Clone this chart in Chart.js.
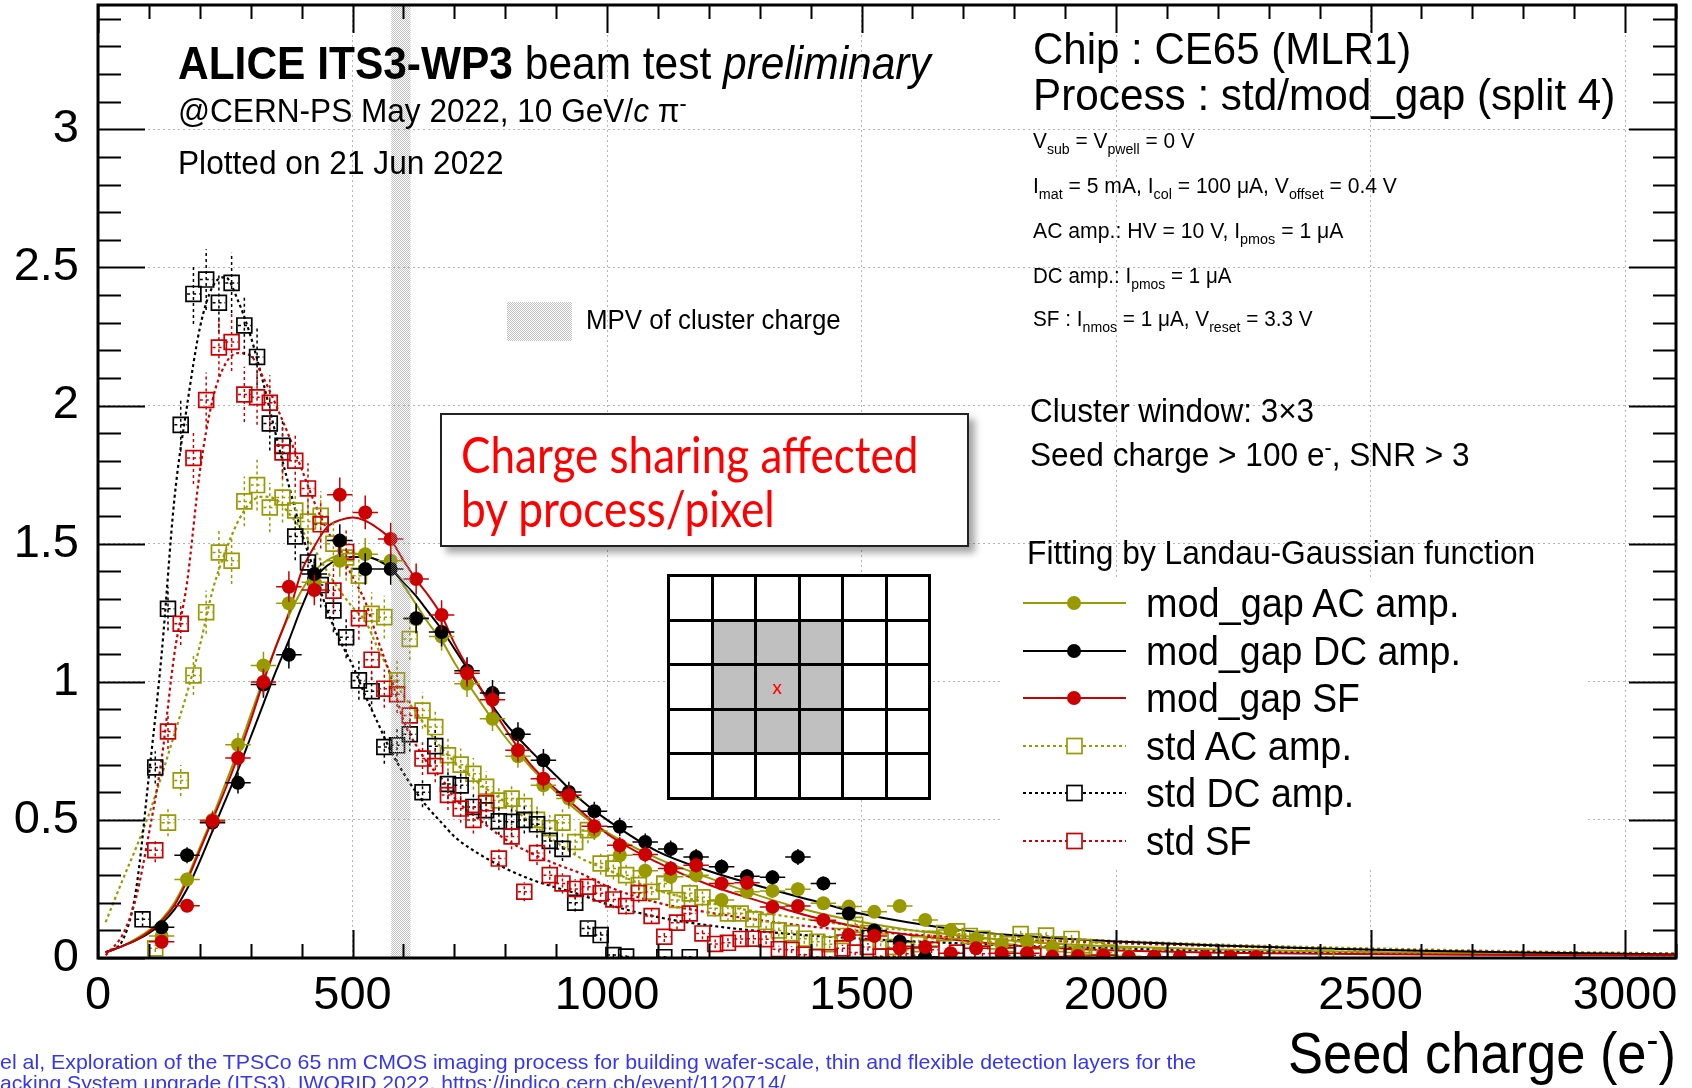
<!DOCTYPE html>
<html>
<head>
<meta charset="utf-8">
<script src="https://cdn.jsdelivr.net/npm/chart.js@4.4.1/dist/chart.umd.min.js"></script>
<style>
html, body { margin:0; padding:0; background:#fff; }
#wrap { position:relative; width:1692px; height:1088px; overflow:hidden; background:#fff; }
#plot { position:absolute; left:0; top:0; }
.txt { position:absolute; white-space:nowrap; line-height:1; font-family:'Liberation Sans', Arial, sans-serif; color:#000; transform-origin:0 0; }
.sb { position:relative; top:0.38em; font-size:0.68em; }
.sp { position:relative; top:-0.5em; font-size:0.68em; }
#note { position:absolute; left:440px; top:413px; width:525px; height:130px; border:2px solid #222; background:#fff; box-shadow:6px 6px 7px rgba(0,0,0,0.35); }
#pix { position:absolute; left:667px; top:574px; display:grid; grid-template-columns:repeat(6, 40.5px); grid-template-rows:repeat(5, 41.5px); gap:3px; padding:3px; background:#000; }
#pix div { background:#fff; display:flex; align-items:center; justify-content:center; font-family:Lato, sans-serif; font-size:19px; color:#f00; }
#pix div.on { background:#c0c0c0; }
</style>
</head>
<body>
<div id="wrap">
  <canvas id="plot" width="1692" height="1088"></canvas>
  <div id="note"></div>
  <div id="pix"></div>
</div>
<script>
// axis ticks and names
var xTickLabels = [0, 500, 1000, 1500, 2000, 2500, 3000];
var yTickLabels = [0, 0.5, 1, 1.5, 2, 2.5, 3];
var seriesNames = ['mod_gap AC amp.', 'mod_gap DC amp.', 'mod_gap SF', 'std AC amp.', 'std DC amp.', 'std SF'];
var mpvRange = [576, 614];

// mod_gap : 50 e- bins
var modBins = [125, 175, 225, 275, 325, 375, 425, 475, 525, 575,
  625, 675, 725, 775, 825, 875, 925, 975, 1025, 1075,
  1125, 1175, 1225, 1275, 1325, 1375, 1425, 1475, 1525, 1575,
  1625, 1675, 1725, 1775, 1825, 1875, 1925, 1975, 2025, 2075,
  2125, 2175, 2225, 2275];
var modAC = [0.080, 0.284, 0.500, 0.772, 1.059, 1.284, 1.360, 1.438, 1.462, 1.438,
  1.226, 1.164, 0.993, 0.866, 0.730, 0.625, 0.577, 0.460, 0.372, 0.316,
  0.294, 0.300, 0.210, 0.240, 0.243, 0.249, 0.198, 0.186, 0.167, 0.188,
  0.138, 0.101, 0.070, 0.050, 0.060, 0.040, 0.020, 0.012, 0.006, 0.004];
var modDC = [0.111, 0.372, 0.490, 0.634, 0.990, 1.098, 1.390, 1.511, 1.408, 1.408,
  1.230, 1.180, 1.040, 0.959, 0.810, 0.716, 0.601, 0.531, 0.475, 0.420,
  0.395, 0.366, 0.330, 0.296, 0.292, 0.366, 0.270, 0.161, 0.100, 0.060,
  0.004, null, null, null, null, null, null, null, null, 0.004];
var modSF = [0.059, 0.189, 0.496, 0.724, 0.999, 1.344, 1.332, 1.677, 1.613, 1.517,
  1.372, 1.242, 1.031, 0.935, 0.752, 0.649, 0.589, 0.477, 0.408, 0.375,
  0.324, 0.336, 0.270, 0.272, 0.185, 0.188, 0.137, 0.083, 0.080, 0.035,
  0.040, 0.017, 0.035, 0.017, 0.017, 0.005, 0.007, 0.010, 0.004, 0.004,
  0.004, 0.004, 0.004, 0.004];

// std : 25 e- bins
var stdBins = [87.5, 112.5, 137.5, 162.5, 187.5, 212.5, 237.5, 262.5, 287.5, 312.5,
  337.5, 362.5, 387.5, 412.5, 437.5, 462.5, 487.5, 512.5, 537.5, 562.5,
  587.5, 612.5, 637.5, 662.5, 687.5, 712.5, 737.5, 762.5, 787.5, 812.5,
  837.5, 862.5, 887.5, 912.5, 937.5, 962.5, 987.5, 1012.5, 1037.5, 1062.5,
  1087.5, 1112.5, 1137.5, 1162.5, 1187.5, 1212.5, 1237.5, 1262.5, 1287.5, 1312.5,
  1337.5, 1362.5, 1387.5, 1412.5, 1437.5, 1462.5, 1487.5, 1512.5, 1537.5, 1562.5,
  1587.5, 1612.5, 1637.5, 1662.5, 1687.5, 1712.5, 1737.5, 1762.5, 1787.5, 1812.5,
  1837.5, 1862.5, 1887.5, 1912.5, 1937.5, 1962.5, 1987.5, 2012.5, 2037.5, 2062.5,
  2087.5, 2112.5, 2137.5, 2162.5, 2187.5, 2212.5, 2237.5, 2262.5, 2287.5, 2312.5,
  2337.5, 2362.5, 2387.5, 2412.5];
var stdAC = [null, 0.035, 0.490, 0.643, 1.023, 1.252, 1.468, 1.438, 1.653, 1.712,
  1.631, 1.667, 1.620, 1.580, 1.601, 1.500, 1.450, 1.384, 1.246, 1.234,
  1.005, 1.155, 0.896, 0.836, 0.734, 0.700, 0.667, 0.620, 0.570, 0.577,
  0.550, 0.500, 0.470, 0.490, 0.420, 0.463, 0.342, 0.324, 0.300, 0.264,
  0.240, 0.270, 0.210, 0.234, 0.220, 0.180, 0.161, 0.161, 0.140, 0.131,
  0.100, 0.090, 0.070, 0.059, 0.050, 0.080, 0.120, 0.090, 0.060, 0.040,
  0.030, 0.050, 0.070, 0.090, 0.097, 0.080, 0.070, 0.060, 0.050, 0.087,
  0.060, 0.081, 0.050, 0.069, 0.040, 0.030, 0.020, 0.010, null, null,
  0.005, null, null, null, null, null, null, null, null, null,
  null, null, null, 0.003];
var stdDC = [0.140, 0.690, 1.264, 1.930, 2.404, 2.456, 2.372, 2.444, 2.290, 2.176,
  1.935, 1.854, 1.526, 1.432, 1.350, 1.258, 1.161, 1.005, 0.966, 0.764,
  0.770, 0.810, 0.600, 0.767, 0.630, 0.625, 0.547, 0.535, 0.495, 0.493,
  0.500, 0.484, 0.424, 0.395, 0.200, 0.107, 0.083, 0.011, 0.005, null,
  null, 0.003, null, 0.003];
var stdSF = [null, 0.390, 0.820, 1.210, 1.810, 2.020, 2.210, 2.230, 2.040, 2.030,
  2.010, 1.830, 1.800, 1.700, 1.570, 1.330, 1.470, 1.230, 1.080, 0.975,
  0.955, 0.878, 0.722, 0.695, 0.590, 0.541, 0.500, 0.560, 0.360, 0.440,
  0.240, 0.380, 0.300, 0.270, 0.250, 0.258, 0.234, 0.212, 0.188, 0.235,
  0.152, 0.077, 0.128, 0.161, 0.089, 0.051, 0.055, 0.069, 0.070, 0.068,
  0.032, 0.030, 0.012, 0.003, 0.003, 0.035, 0.020, 0.040, 0.005, 0.005,
  0.015, 0.010, 0.030, null, 0.020, null, 0.015, null, 0.010, null,
  0.010, null, null, 0.005];

// Landau-Gaussian fits
var fitX = [15, 50, 75, 100, 125, 150, 175, 200, 225, 250,
  275, 300, 325, 350, 375, 400, 425, 450, 475, 500,
  525, 550, 575, 600, 625, 650, 675, 700, 750, 800,
  850, 900, 950, 1000, 1100, 1200, 1300, 1400, 1500, 1600,
  1700, 1800, 1900, 2000, 2200, 2400, 2600, 2800, 3000, 3100];
var fitModAC = [0.02, 0.045, 0.07, 0.10, 0.14, 0.20, 0.29, 0.40, 0.51, 0.63,
  0.75, 0.88, 1.01, 1.13, 1.24, 1.33, 1.40, 1.44, 1.46, 1.465,
  1.455, 1.44, 1.415, 1.35, 1.28, 1.21, 1.15, 1.07, 0.93, 0.80,
  0.69, 0.60, 0.52, 0.455, 0.36, 0.29, 0.225, 0.17, 0.13, 0.10,
  0.08, 0.062, 0.05, 0.042, 0.031, 0.024, 0.019, 0.016, 0.013, 0.012];
var fitModDC = [0.02, 0.045, 0.065, 0.09, 0.125, 0.175, 0.25, 0.35, 0.46, 0.57,
  0.68, 0.80, 0.92, 1.04, 1.15, 1.27, 1.37, 1.42, 1.445, 1.452,
  1.452, 1.44, 1.41, 1.36, 1.31, 1.25, 1.19, 1.12, 0.98, 0.85,
  0.75, 0.66, 0.57, 0.50, 0.385, 0.315, 0.26, 0.21, 0.16, 0.127,
  0.10, 0.082, 0.07, 0.06, 0.045, 0.034, 0.026, 0.02, 0.015, 0.013];
var fitModSF = [0.02, 0.045, 0.065, 0.095, 0.135, 0.19, 0.28, 0.39, 0.50, 0.61,
  0.73, 0.86, 1.0, 1.13, 1.25, 1.40, 1.49, 1.56, 1.585, 1.595,
  1.583, 1.555, 1.515, 1.44, 1.37, 1.31, 1.24, 1.14, 0.98, 0.83,
  0.70, 0.61, 0.53, 0.45, 0.345, 0.265, 0.205, 0.15, 0.11, 0.082,
  0.063, 0.045, 0.034, 0.027, 0.019, 0.015, 0.013, 0.011, 0.01, 0.01];
var fitStdAC = [0.13, 0.29, 0.40, 0.52, 0.66, 0.81, 0.96, 1.13, 1.33, 1.47,
  1.58, 1.65, 1.67, 1.66, 1.61, 1.55, 1.48, 1.40, 1.33, 1.27,
  1.22, 1.12, 1.03, 0.95, 0.89, 0.82, 0.76, 0.71, 0.63, 0.565,
  0.49, 0.42, 0.36, 0.32, 0.245, 0.20, 0.166, 0.138, 0.113, 0.10,
  0.086, 0.077, 0.069, 0.062, 0.049, 0.039, 0.031, 0.024, 0.019, 0.017];
var fitStdDC = [0.02, 0.07, 0.25, 0.66, 1.10, 1.66, 2.00, 2.28, 2.43, 2.465,
  2.38, 2.25, 2.08, 1.89, 1.71, 1.54, 1.40, 1.26, 1.15, 1.06,
  0.95, 0.85, 0.75, 0.67, 0.60, 0.54, 0.49, 0.44, 0.375, 0.325,
  0.285, 0.255, 0.228, 0.195, 0.148, 0.118, 0.097, 0.081, 0.07, 0.06,
  0.053, 0.045, 0.04, 0.035, 0.026, 0.02, 0.016, 0.013, 0.011, 0.01];
var fitStdSF = [0.01, 0.09, 0.22, 0.45, 0.72, 1.10, 1.36, 1.76, 2.02, 2.15,
  2.19, 2.18, 2.10, 2.00, 1.89, 1.77, 1.65, 1.55, 1.47, 1.38,
  1.29, 1.15, 1.02, 0.86, 0.77, 0.70, 0.65, 0.58, 0.50, 0.43,
  0.38, 0.34, 0.305, 0.26, 0.20, 0.165, 0.137, 0.114, 0.097, 0.085,
  0.074, 0.066, 0.06, 0.054, 0.043, 0.034, 0.027, 0.021, 0.016, 0.015];

var OLIVE = '#999900', RED = '#cc0000', BLACK = '#000000';
var seriesColors = [OLIVE, BLACK, RED, OLIVE, BLACK, RED];
var modErr = 0.048, stdErr = 0.07;   // stat. error ~ c*sqrt(content)

function points(xs, ys) {
  var out = [];
  ys.forEach(function(v, i){ if (v !== null && v !== undefined) out.push({x: xs[i], y: v}); });
  return out;
}
function markerSet(name, xs, ys, color, filled, halfW, errC) {
  return {
    label: name, data: points(xs, ys), showLine: false, clip: 0,
    pointStyle: filled ? 'circle' : 'rect',
    pointRadius: filled ? 7 : 10.5,
    pointBackgroundColor: filled ? color : 'rgba(0,0,0,0)',
    pointBorderColor: color, pointBorderWidth: filled ? 0 : 1.7,
    errC: errC, halfW: halfW, errDash: filled ? [] : [3, 3], errColor: color
  };
}
function fitSet(name, ys, color, dotted) {
  return {
    label: name + ' fit', data: points(fitX, ys), showLine: true, clip: 0,
    pointRadius: 0, borderColor: color, borderWidth: dotted ? 2.2 : 2,
    borderDash: dotted ? [3, 3] : [], cubicInterpolationMode: 'monotone', fill: false
  };
}

function hatch(ctx) {
  var c = document.createElement('canvas');
  c.width = 2; c.height = 2;
  var g = c.getContext('2d');
  g.fillStyle = 'rgba(150,150,150,0.6)';
  g.fillRect(0, 0, 1, 1); g.fillRect(1, 1, 1, 1);
  return ctx.createPattern(c, 'repeat');
}

// error bars, drawn just before each marker set
var errorBars = {
  id: 'errorBars',
  beforeDatasetDraw: function(chart, args) {
    var ds = chart.data.datasets[args.index];
    if (!ds.errC) return;
    var ctx = chart.ctx, a = chart.chartArea, x = chart.scales.x, y = chart.scales.y;
    ctx.save();
    ctx.beginPath(); ctx.rect(a.left, a.top, a.right - a.left, a.bottom - a.top); ctx.clip();
    ctx.strokeStyle = ds.errColor;
    ctx.lineWidth = 1.5;
    ctx.setLineDash(ds.errDash);
    ds.data.forEach(function(p){
      var e = ds.errC * Math.sqrt(p.y);
      var px = x.getPixelForValue(p.x), py = y.getPixelForValue(p.y);
      ctx.beginPath();
      ctx.moveTo(px, y.getPixelForValue(p.y - e)); ctx.lineTo(px, y.getPixelForValue(p.y + e));
      ctx.moveTo(x.getPixelForValue(p.x - ds.halfW), py); ctx.lineTo(x.getPixelForValue(p.x + ds.halfW), py);
      ctx.stroke();
    });
    ctx.restore();
  }
};

// white legend pad over the grid
var legendPad = {
  id: 'legendPad',
  beforeDatasetsDraw: function(chart) {
    var ctx = chart.ctx;
    ctx.save();
    ctx.fillStyle = '#fff';
    ctx.fillRect(1000, 577, 587, 290);
    ctx.restore();
  }
};

// MPV band, frame and ROOT-style inward ticks
var frameTicks = {
  id: 'frameTicks',
  afterDatasetsDraw: function(chart) {
    var ctx = chart.ctx, a = chart.chartArea, x = chart.scales.x, y = chart.scales.y;
    ctx.save();
    ctx.fillStyle = hatch(ctx);
    var b0 = x.getPixelForValue(mpvRange[0]), b1 = x.getPixelForValue(mpvRange[1]);
    ctx.fillRect(b0, a.top, b1 - b0, a.bottom - a.top);

    ctx.strokeStyle = '#000';
    ctx.lineWidth = 2;
    ctx.beginPath();
    for (var v = 0; v <= x.max; v += 100) {
      var px = Math.round(x.getPixelForValue(v)) + 0.5;
      var len = v % 500 === 0 ? 28 : 14;
      ctx.moveTo(px, a.bottom); ctx.lineTo(px, a.bottom - len);
      ctx.moveTo(px, a.top); ctx.lineTo(px, a.top + len);
    }
    for (var k = 0; k <= Math.floor(y.max * 10); k++) {
      var py = Math.round(y.getPixelForValue(k / 10)) + 0.5;
      var l2 = k % 5 === 0 ? 47 : 23;
      ctx.moveTo(a.left, py); ctx.lineTo(a.left + l2, py);
      ctx.moveTo(a.right, py); ctx.lineTo(a.right - l2, py);
    }
    ctx.stroke();
    ctx.lineWidth = 3;
    ctx.strokeRect(a.left, a.top, a.right - a.left, a.bottom - a.top);
    ctx.restore();
  },
  afterDraw: function(chart) {
    var ctx = chart.ctx;
    ctx.save();
    // MPV swatch
    ctx.fillStyle = hatch(ctx);
    ctx.fillRect(507, 302, 65, 39);
    // legend symbols
    var rows = [603, 651, 698, 746, 793, 841];
    rows.forEach(function(ry, i){
      var c = seriesColors[i], std = i >= 3;
      ctx.strokeStyle = c;
      ctx.lineWidth = std ? 2 : 1.8;
      ctx.setLineDash(std ? [3, 3] : []);
      ctx.beginPath(); ctx.moveTo(1023, ry); ctx.lineTo(1126, ry); ctx.stroke();
      ctx.setLineDash([]);
      if (std) {
        ctx.fillStyle = '#fff';
        ctx.fillRect(1067, ry - 7.5, 15, 15);
        ctx.lineWidth = 1.7;
        ctx.strokeRect(1067, ry - 7.5, 15, 15);
      } else {
        ctx.fillStyle = c;
        ctx.beginPath(); ctx.arc(1074, ry, 7, 0, Math.PI * 2); ctx.fill();
      }
    });
    ctx.restore();
  }
};

var tickFont = { family: "'Liberation Sans', Arial, sans-serif", size: 47 };
function plainLabel(v) { return String(v); }
function noPad(s) { s.paddingTop = 0; s.paddingBottom = 0; s.paddingLeft = 0; s.paddingRight = 0; }

var ctx = document.getElementById('plot').getContext('2d');
var chart = new Chart(ctx, {
  type: 'scatter',
  data: {
    datasets: [
      markerSet(seriesNames[2], modBins, modSF, RED, true, 25, modErr),
      markerSet(seriesNames[1], modBins, modDC, BLACK, true, 25, modErr),
      markerSet(seriesNames[0], modBins, modAC, OLIVE, true, 25, modErr),
      markerSet(seriesNames[5], stdBins, stdSF, RED, false, 12.5, stdErr),
      markerSet(seriesNames[4], stdBins, stdDC, BLACK, false, 12.5, stdErr),
      markerSet(seriesNames[3], stdBins, stdAC, OLIVE, false, 12.5, stdErr),
      fitSet(seriesNames[2], fitModSF, RED, false),
      fitSet(seriesNames[1], fitModDC, BLACK, false),
      fitSet(seriesNames[0], fitModAC, OLIVE, false),
      fitSet(seriesNames[5], fitStdSF, RED, true),
      fitSet(seriesNames[4], fitStdDC, BLACK, true),
      fitSet(seriesNames[3], fitStdAC, OLIVE, true)
    ]
  },
  options: {
    responsive: false,
    devicePixelRatio: 1,
    animation: false,
    events: [],
    layout: { autoPadding: false, padding: { top: 5, right: 16, left: 0, bottom: 0 } },
    plugins: { legend: { display: false }, tooltip: { enabled: false }, title: { display: false } },
    scales: {
      x: {
        type: 'linear', min: 0, max: 3100,
        afterFit: function(s){ s.height = 130; noPad(s); },
        afterBuildTicks: function(s){ s.ticks = xTickLabels.map(function(v){ return {value: v}; }); },
        grid: { color: '#b4b4b4', lineWidth: 1, drawTicks: false },
        border: { display: false, dash: [2, 3] },
        ticks: { color: '#000', font: tickFont, padding: 10, maxRotation: 0, autoSkip: false, callback: plainLabel }
      },
      y: {
        type: 'linear', min: 0, max: 3.45,
        afterFit: function(s){ s.width = 98; noPad(s); },
        afterBuildTicks: function(s){ s.ticks = yTickLabels.map(function(v){ return {value: v}; }); },
        grid: { color: '#b4b4b4', lineWidth: 1, drawTicks: false },
        border: { display: false, dash: [2, 3] },
        ticks: { color: '#000', font: tickFont, padding: 19, autoSkip: false, callback: plainLabel }
      }
    }
  },
  plugins: [legendPad, errorBars, frameTicks]
});

// pixel matrix sketch
var pix = document.getElementById('pix');
for (var r = 0; r < 5; r++) {
  for (var c = 0; c < 6; c++) {
    var cell = document.createElement('div');
    if (r >= 1 && r <= 3 && c >= 1 && c <= 3) cell.className = 'on';
    if (r === 2 && c === 2) cell.textContent = 'x';
    pix.appendChild(cell);
  }
}

// text pads
var texts = [
  {html: '<b>ALICE ITS3-WP3</b> beam test <i>preliminary</i>', x: 178, y: 63, size: 46, w: 752},
  {html: '@CERN-PS May 2022, 10 GeV/<i>c</i> &pi;<span class="sp">-</span>', x: 178, y: 110, size: 34, w: 509},
  {html: 'Plotted on 21 Jun 2022', x: 178, y: 162, size: 33, w: 325},
  {html: 'Chip : CE65 (MLR1)', x: 1033, y: 49, size: 44, w: 378},
  {html: 'Process : std/mod_gap (split 4)', x: 1033, y: 94, size: 45, w: 582},
  {html: 'V<span class="sb">sub</span> = V<span class="sb">pwell</span> = 0 V', x: 1033, y: 141, size: 22, w: 162},
  {html: 'I<span class="sb">mat</span> = 5 mA, I<span class="sb">col</span> = 100 &mu;A, V<span class="sb">offset</span> = 0.4 V', x: 1033, y: 186, size: 22, w: 364},
  {html: 'AC amp.: HV = 10 V, I<span class="sb">pmos</span> = 1 &mu;A', x: 1033, y: 231, size: 22, w: 310},
  {html: 'DC amp.: I<span class="sb">pmos</span> = 1 &mu;A', x: 1033, y: 276, size: 22, w: 199},
  {html: 'SF : I<span class="sb">nmos</span> = 1 &mu;A, V<span class="sb">reset</span> = 3.3 V', x: 1033, y: 319, size: 22, w: 280},
  {html: 'Cluster window: 3&times;3', x: 1030, y: 410, size: 33, w: 284},
  {html: 'Seed charge &gt; 100 e<span class="sp">-</span>, SNR &gt; 3', x: 1030, y: 454, size: 34, w: 440},
  {html: 'Fitting by Landau-Gaussian function', x: 1027, y: 552, size: 33, w: 508},
  {html: 'MPV of cluster charge', x: 586, y: 320, size: 27, w: 255},
  {html: seriesNames[0], x: 1146, y: 603, size: 40, w: 313},
  {html: seriesNames[1], x: 1146, y: 651, size: 40, w: 315},
  {html: seriesNames[2], x: 1146, y: 698, size: 40, w: 214},
  {html: seriesNames[3], x: 1146, y: 746, size: 40, w: 206},
  {html: seriesNames[4], x: 1146, y: 793, size: 40, w: 208},
  {html: seriesNames[5], x: 1146, y: 841, size: 40, w: 106},
  {html: 'Seed charge (e<span class="sp">-</span>)', x: 1676, y: 1052, size: 58, w: 388, right: true},
  {html: 'Charge sharing affected', x: 461, y: 453, size: 50, w: 457, font: 'Lato, sans-serif', color: '#ff0000'},
  {html: 'by process/pixel', x: 461, y: 507, size: 50, w: 314, font: 'Lato, sans-serif', color: '#ff0000'},
  {html: 'el al, Exploration of the TPSCo 65 nm CMOS imaging process for building wafer-scale, thin and flexible detection layers for the', x: 0, y: 1061, size: 21, w: 1196, color: '#3636f0'},
  {html: 'acking System upgrade (ITS3), IWORID 2022, https://indico.cern.ch/event/1120714/', x: 0, y: 1082, size: 21, w: 785, color: '#3636f0'}
];
var wrap = document.getElementById('wrap');
texts.forEach(function(t){
  var el = document.createElement('div');
  el.className = 'txt';
  el.innerHTML = t.html;
  el.style.fontSize = t.size + 'px';
  if (t.font) el.style.fontFamily = t.font;
  if (t.color) el.style.color = t.color;
  el.style.top = (t.y - t.size * 0.49) + 'px';
  wrap.appendChild(el);
  var k = t.w / el.offsetWidth;
  el.style.left = (t.right ? t.x - t.w : t.x) + 'px';
  el.style.transform = 'scaleX(' + k.toFixed(3) + ')';
});
</script>
</body>
</html>
